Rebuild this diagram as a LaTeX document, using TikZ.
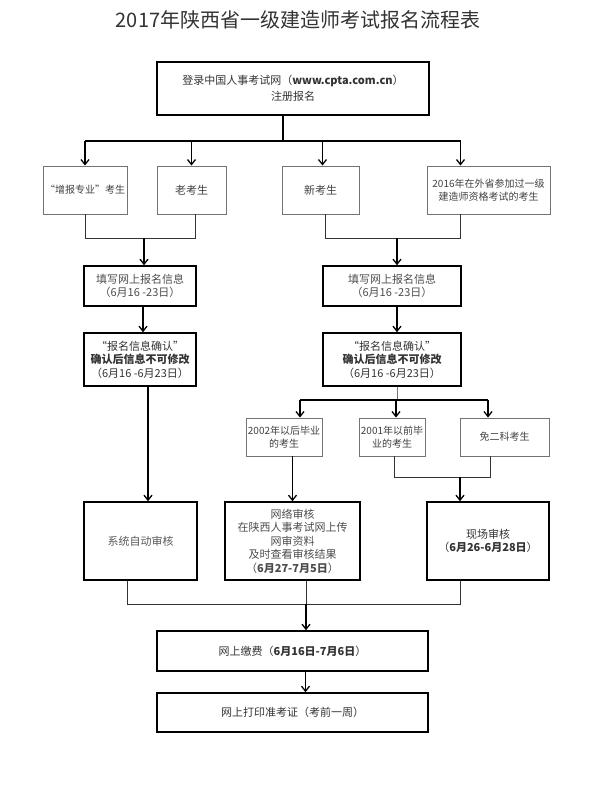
\documentclass[tikz,border=0pt]{standalone}
\usepackage{fontspec}
\setmainfont{Noto Sans CJK SC}
\usepackage{xcolor}
\usepackage{tikz}
\usetikzlibrary{arrows.meta}

\tikzset{
    box/.style={draw, line width=1.6pt, align=center, inner sep=1pt,
        text=black!80, font=\fontsize{11}{13.5}\selectfont},
    graybox/.style={draw=black!55, line width=0.9pt, align=center, inner sep=1pt,
        text=black!75, font=\fontsize{10}{13}\selectfont},
    flow/.style={-{Straight Barb[length=5pt,width=8pt]}, line width=1.3pt},
    joinline/.style={line width=0.9pt, draw=black!80},
}

\begin{document}
\begin{tikzpicture}[x=1pt,y=-1pt]
    \useasboundingbox (0,0) rectangle (592,800);

    % title
    \node [text=black!80, font=\fontsize{20}{24}\selectfont] (title) at (298,20)
        {2017年陕西省一级建造师考试报名流程表};

    % register
    \node [box,
        minimum width=272pt,
        minimum height=53pt,
        font=\fontsize{11}{16.5}\selectfont,
    ] (login) at (293,88.5) {登录中国人事考试网（\textbf{www.cpta.com.cn}）\\注册报名};

    % candidate groups
    \node [graybox, minimum width=84pt, minimum height=48pt] (extra) at (85,190) {“增报专业”考生};
    \node [graybox, font=\fontsize{11}{13}\selectfont, minimum width=69pt, minimum height=48pt] (old) at (191.5,190) {老考生};
    \node [graybox, font=\fontsize{11}{13}\selectfont, minimum width=77pt, minimum height=48pt] (new) at (320.5,190) {新考生};
    \node [graybox, minimum width=123pt, minimum height=48pt] (outside) at (488.5,190)
        {2016年在外省参加过一级\\建造师资格考试的考生};

    % fill in
    \node [box, text=black!70, minimum width=112pt, minimum height=40pt] (fillL) at (140,286)
        {填写网上报名信息\\（6月16 -23日）};
    \node [box, text=black!70, minimum width=138pt, minimum height=40pt] (fillR) at (392,286)
        {填写网上报名信息\\（6月16 -23日）};

    % confirm
    \node [box, minimum width=112pt, minimum height=53pt] (confL) at (140,359.5)
        {“报名信息确认”\\\textbf{确认后信息不可修改}\\（6月16 -6月23日）};
    \node [box, minimum width=138pt, minimum height=53pt] (confR) at (392,359.5)
        {“报名信息确认”\\\textbf{确认后信息不可修改}\\（6月16 -6月23日）};

    % graduation
    \node [graybox, minimum width=76pt, minimum height=38pt] (after02) at (284,437)
        {2002年以后毕业\\的考生};
    \node [graybox, minimum width=66pt, minimum height=38pt] (before01) at (392,437)
        {2001年以前毕\\业的考生};
    \node [graybox, minimum width=89pt, minimum height=38pt] (exempt) at (504.5,437)
        {免二科考生};

    % review
    \node [box, text=black!65, minimum width=113pt, minimum height=78pt] (auto) at (140.5,541)
        {系统自动审核};
    \node [box, text=black!70, minimum width=135pt, minimum height=78pt] (online) at (292.5,541)
        {网络审核\\在陕西人事考试网上传\\网审资料\\及时查看审核结果\\（\textbf{6月27-7月5日}）};
    \node [box, minimum width=122pt, minimum height=78pt] (site) at (488,541)
        {现场审核\\（\textbf{6月26-6月28日}）};

    % fee and ticket
    \node [box, minimum width=271pt, minimum height=40pt] (pay) at (292.5,651)
        {网上缴费（\textbf{6月16日-7月6日}）};
    \node [box, minimum width=271pt, minimum height=39pt] (print) at (292.5,712.5)
        {网上打印准考证（考前一周）};

    % register -> groups
    \coordinate (bar1) at (0,141);
    \draw [line width=1.3pt] ([xshift=-10pt]login.south) -- ([xshift=-10pt]login.south |- bar1);
    \draw [line width=1.3pt] (extra.north |- bar1) -- ([xshift=-28pt]outside.north |- bar1);
    \draw [flow] (extra.north |- bar1) -- (extra.north);
    \draw [flow] (old.north |- bar1) -- (old.north);
    \draw [flow] ([xshift=2pt]new.north |- bar1) -- ([xshift=2pt]new.north);
    \draw [flow] ([xshift=-28pt]outside.north |- bar1) -- ([xshift=-28pt]outside.north);

    % groups -> fill in
    \coordinate (merge1) at (0,238);
    \draw [joinline] (extra.south) -- (extra.south |- merge1) -| ([xshift=4pt]old.south);
    \draw [flow] ([xshift=4pt]fillL.north |- merge1) -- ([xshift=4pt]fillL.north);
    \draw [joinline] ([xshift=5pt]new.south) -- ([xshift=5pt]new.south |- merge1)
        -| ([xshift=-28pt]outside.south);
    \draw [flow] ([xshift=5pt]fillR.north |- merge1) -- ([xshift=5pt]fillR.north);

    % fill in -> confirm
    \draw [flow] ([xshift=3pt]fillL.south) -- ([xshift=3pt]confL.north);
    \draw [flow] ([xshift=5pt]fillR.south) -- ([xshift=5pt]confR.north);

    % confirm -> review
    \draw [flow] ([xshift=8pt]confL.south) -- ([xshift=8pt]confL.south |- auto.north);
    \coordinate (bar2) at (0,400);
    \draw [line width=0.9pt, draw=black!55] ([xshift=5pt]confR.south) -- ([xshift=5pt]confR.south |- bar2);
    \draw [line width=1.3pt] ([xshift=16pt]after02.north |- bar2) -- ([xshift=-16.5pt]exempt.north |- bar2);
    \draw [flow] ([xshift=16pt]after02.north |- bar2) -- ([xshift=16pt]after02.north);
    \draw [flow] ([xshift=4pt]before01.north |- bar2) -- ([xshift=4pt]before01.north);
    \draw [flow] ([xshift=-16.5pt]exempt.north |- bar2) -- ([xshift=-16.5pt]exempt.north);

    \draw [flow] (online.north |- after02.south) -- (online.north);
    \coordinate (merge2) at (0,477);
    \draw [joinline] ([xshift=2pt]before01.south) -- ([xshift=2pt]before01.south |- merge2)
        -| ([xshift=-14.5pt]exempt.south);
    \draw [flow] ([xshift=-28pt]site.north |- merge2) -- ([xshift=-28pt]site.north);

    % review -> fee -> ticket
    \coordinate (merge3) at (0,604);
    \draw [joinline] ([xshift=-13.5pt]auto.south) -- ([xshift=-13.5pt]auto.south |- merge3)
        -| ([xshift=-28pt]site.south);
    \draw [joinline] ([xshift=13.5pt]online.south) -- ([xshift=13.5pt]online.south |- merge3);
    \draw [flow] ([xshift=13.5pt]online.south |- merge3) -- ([xshift=13.5pt]pay.north);
    \draw [flow] ([xshift=13pt]pay.south) -- ([xshift=13pt]print.north);
\end{tikzpicture}
\end{document}
